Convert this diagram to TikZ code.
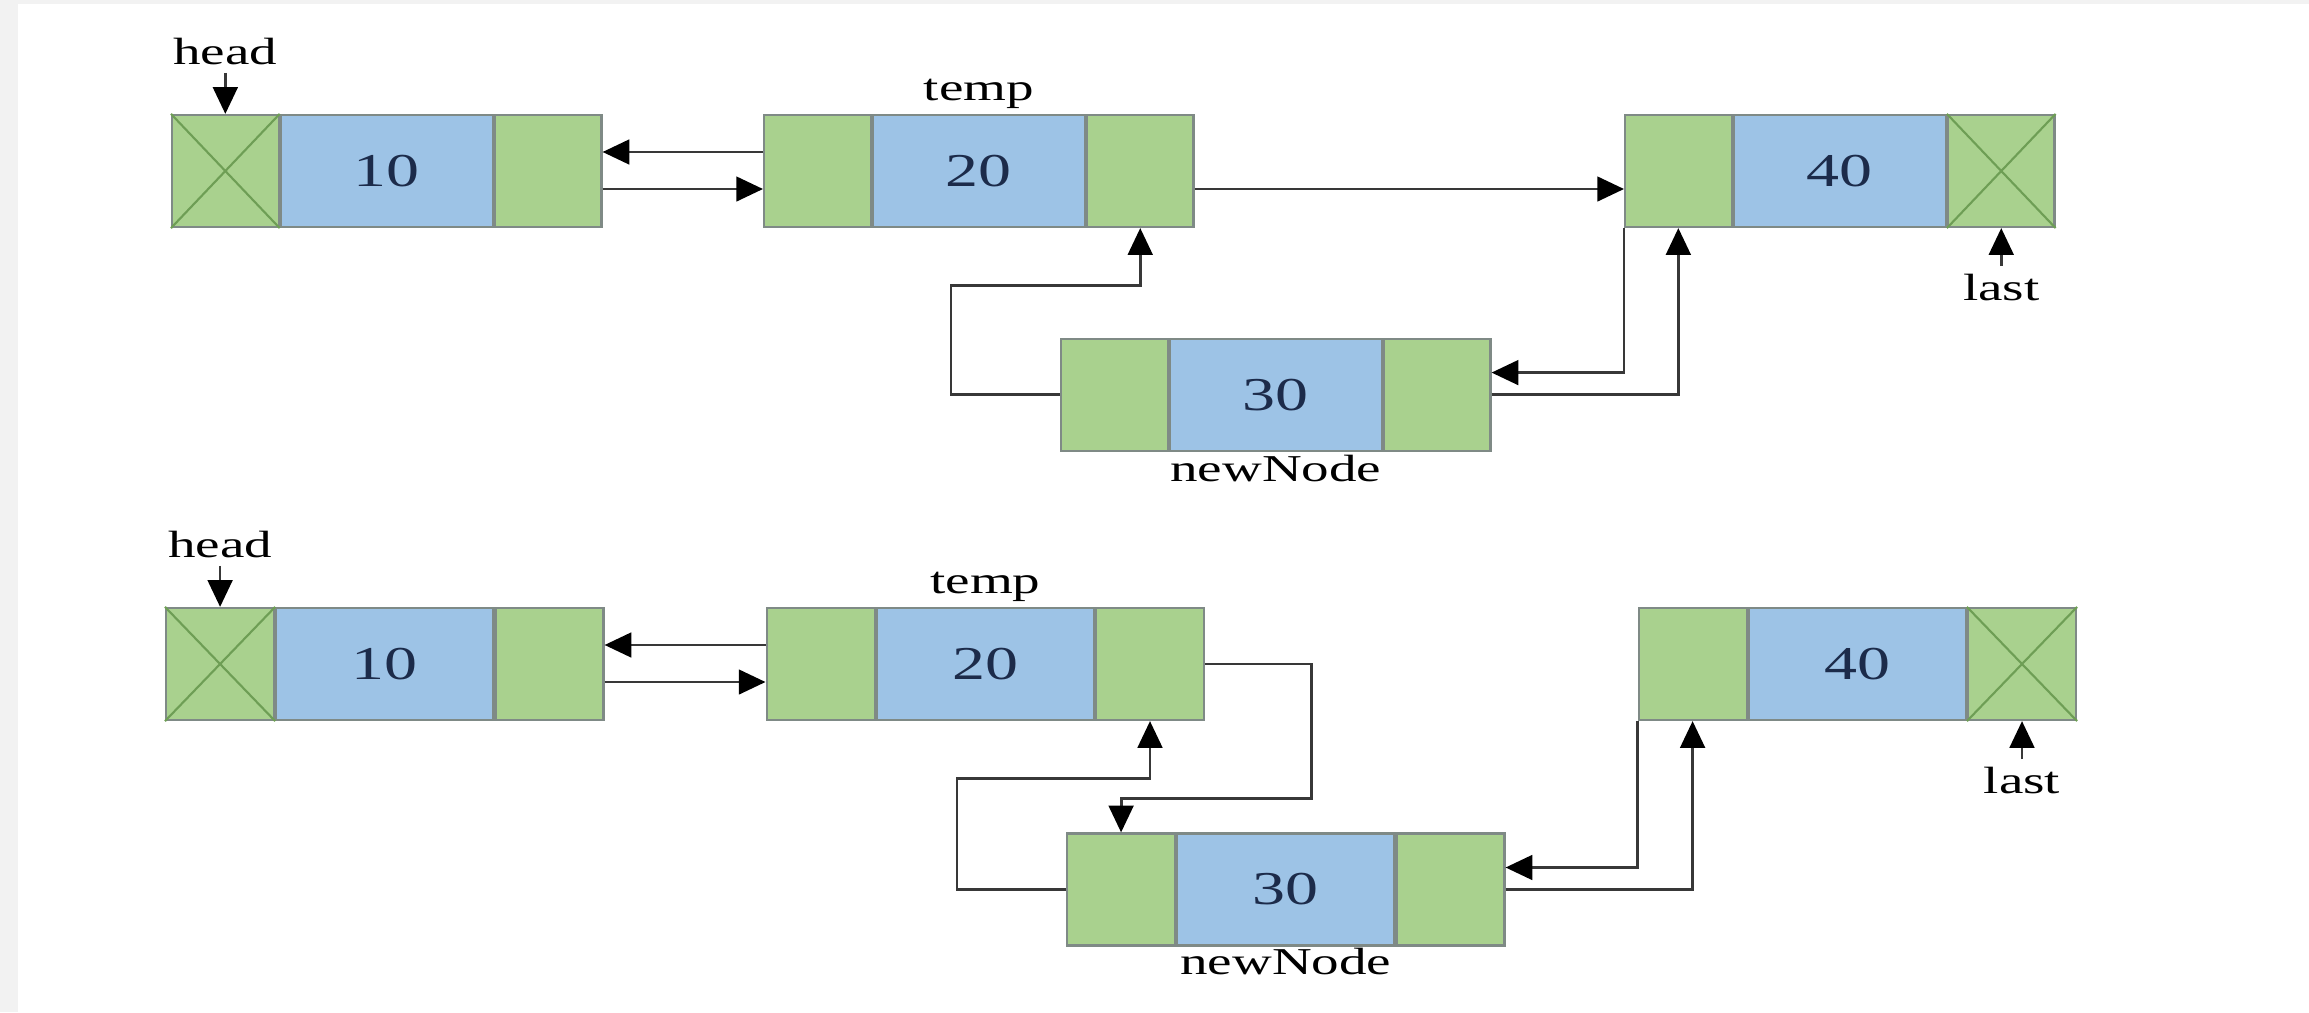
\documentclass[tikz,border=0pt]{standalone}
\usepackage{fontspec}
\setmainfont{Liberation Serif}
\newfontfamily\valfont[FakeStretch=1.4]{Liberation Serif}
\newfontfamily\lblfont[FakeStretch=1.45]{Liberation Serif}
\usetikzlibrary{arrows.meta}

\definecolor{cellgreen}{HTML}{A9D18E}
\definecolor{cellblue}{HTML}{9DC3E6}
\definecolor{celledge}{HTML}{7F8A86}
\definecolor{crossline}{HTML}{6E9E55}
\definecolor{linkgray}{HTML}{383838}
\definecolor{valink}{HTML}{1C2B4A}
\definecolor{framegray}{HTML}{F2F2F2}

% cell widths, set per row
\def\ptrw{1.08cm}
\def\valw{2.17cm}

\tikzset{
  cell/.style={draw=celledge, line width=0.6pt, minimum height=1.12cm,
    inner sep=0pt, anchor=west},
  ptr/.style={cell, fill=cellgreen, minimum width=\ptrw},
  val/.style={cell, fill=cellblue, minimum width=\valw,
    font=\valfont\fontsize{13.4}{16}\selectfont, text=valink},
  nilx/.style={draw=crossline, line width=0.6pt},
  link/.style={draw=linkgray, line width=0.8pt,
    -{Triangle[length=7.6pt,width=7pt,color=black]}},
  lbl/.style={font=\lblfont\fontsize{10.8}{13}\selectfont, inner sep=2pt, text=black},
}

% a doubly linked list node: prev pointer, value, next pointer
\newcommand\dllnode[4]{%
  \node[ptr] (#1-l) at (#2,#3) {};
  \node[val] (#1-m) at (#1-l.east) {#4};
  \node[ptr] (#1-r) at (#1-m.east) {};
}
% NULL pointer cross
\newcommand\nilcross[1]{%
  \draw[nilx] (#1.north west) -- (#1.south east) (#1.north east) -- (#1.south west);
}

\begin{document}
\begin{tikzpicture}[x=0.01cm, y=-0.01cm]
  \useasboundingbox (0,0) rectangle (2309,1012);
  \fill[framegray] (0,0) rectangle (2309,1012);
  \fill[white] (18,4) rectangle (2309,1012);

  % ---------- before linking ----------
  \def\ptrw{1.065cm}\def\valw{2.12cm}
  \dllnode{t10}{171}{171}{10}
  \dllnode{t20}{763}{171}{20}
  \dllnode{t40}{1624}{171}{40}
  \dllnode{t30}{1060}{394.6}{30}
  \nilcross{t10-l}
  \nilcross{t40-r}

  \node[lbl, anchor=south] (thead) at ([yshift=0.41cm]t10-l.north) {head};
  \draw[link] (thead.south) -- (t10-l.north);
  \node[lbl, anchor=base] (ttemp) at ([yshift=0.13cm]t20-m.north) {temp};
  \node[lbl, anchor=north] (tlast) at ([yshift=-0.38cm]t40-r.south) {last};
  \draw[link] (tlast.north) -- (t40-r.south);
  \node[lbl, anchor=base] (tnew) at ([yshift=-0.30cm]t30-m.south) {newNode};

  \draw[link] ([yshift=0.19cm]t20-l.west) -- ([yshift=0.19cm]t10-r.east);
  \draw[link] ([yshift=-0.18cm]t10-r.east) -- ([yshift=-0.18cm]t20-l.west);
  \draw[link] ([yshift=-0.18cm]t20-r.east) -- ([yshift=-0.18cm]t40-l.west);
  \draw[link] (t30-l.west) -- ++(-109,0) |- ([yshift=-0.57cm]t20-r.south) -- (t20-r.south);
  \draw[link] (t40-l.south west) |- ([yshift=0.22cm]t30-r.east);
  \draw[link] (t30-r.east) -| (t40-l.south);

  % ---------- after linking ----------
  \def\ptrw{1.08cm}\def\valw{2.17cm}
  \dllnode{b10}{165}{664}{10}
  \dllnode{b20}{765.5}{664}{20}
  \dllnode{b40}{1637.5}{664}{40}
  \dllnode{b30}{1066}{889.5}{30}
  \nilcross{b10-l}
  \nilcross{b40-r}

  \node[lbl, anchor=south] (bhead) at ([yshift=0.41cm]b10-l.north) {head};
  \draw[link] (bhead.south) -- (b10-l.north);
  \node[lbl, anchor=base] (btemp) at ([yshift=0.13cm]b20-m.north) {temp};
  \node[lbl, anchor=north] (blast) at ([yshift=-0.38cm]b40-r.south) {last};
  \draw[link] (blast.north) -- (b40-r.south);
  \node[lbl, anchor=base] (bnew) at ([yshift=-0.28cm]b30-m.south) {newNode};

  \draw[link] ([yshift=0.19cm]b20-l.west) -- ([yshift=0.19cm]b10-r.east);
  \draw[link] ([yshift=-0.18cm]b10-r.east) -- ([yshift=-0.18cm]b20-l.west);
  \draw[link] (b20-r.east) -- ++(106,0) |- ([yshift=0.34cm]b30-l.north) -- (b30-l.north);
  \draw[link] (b30-l.west) -- ++(-109,0) |- ([yshift=-0.57cm]b20-r.south) -- (b20-r.south);
  \draw[link] (b40-l.south west) |- ([yshift=0.22cm]b30-r.east);
  \draw[link] (b30-r.east) -| (b40-l.south);
\end{tikzpicture}
\end{document}
